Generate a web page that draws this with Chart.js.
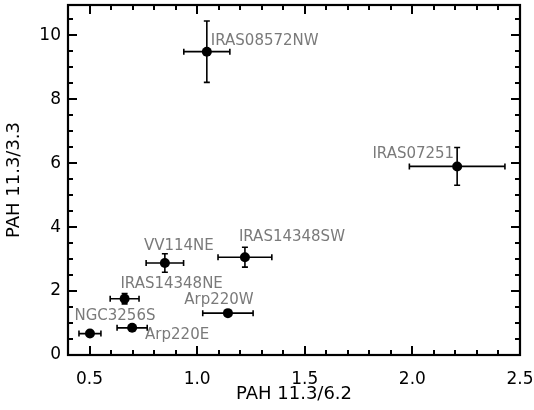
<!DOCTYPE html>
<html>
<head>
<meta charset="utf-8">
<script src="https://cdn.jsdelivr.net/npm/chart.js@4.4.1/dist/chart.umd.min.js"></script>
<style>
  html, body { margin: 0; padding: 0; background: #fff; }
  #grafico { display: block; }
</style>
</head>
<body>
<canvas id="grafico" width="534" height="410"></canvas>
<script>
// =======================================================================
// DADOS
// =======================================================================
const NOMES = [
  "IRAS08572NW",
  "IRAS07251",
  "IRAS14348SW",
  "VV114NE",
  "IRAS14348NE",
  "Arp220W",
  "NGC3256S",
  "Arp220E",
];
// PAH 11.3/6.2 (eixo x) e erro
const RAZAO_62 = [1.045, 2.208, 1.222, 0.850, 0.663, 1.143, 0.502, 0.698];
const ERRO_62 = [0.107, 0.222, 0.125, 0.087, 0.067, 0.117, 0.051, 0.070];
// PAH 11.3/3.3 (eixo y) e erro
const RAZAO_33 = [9.49, 5.90, 3.06, 2.88, 1.76, 1.31, 0.67, 0.85];
const ERRO_33 = [0.96, 0.59, 0.31, 0.29, 0.16, 0.07, 0.05, 0.05];

const X_TICKS = [0.5, 1.0, 1.5, 2.0, 2.5];
const Y_TICKS = [0, 2, 4, 6, 8, 10];

// posição dos rótulos em relação ao ponto (px): dx, dy, alinhamento
const POS_ROTULOS = [
  [4, -11, "left"],
  [-3, -12, "right"],
  [47, -20, "center"],
  [14, -17, "center"],
  [47, -15, "center"],
  [-9, -13, "center"],
  [25, -17, "center"],
  [45, 7, "center"],
];

const FONTE = "'DejaVu Sans', sans-serif";

// =======================================================================
// PLUGIN: BARRAS DE ERRO, RÓTULOS, MOLDURA E TICKS INTERNOS
// =======================================================================
const barrasErro = {
  id: "barrasErro",
  beforeDatasetsDraw(chart) {
    const { ctx, scales: { x, y } } = chart;
    const cap = 3;
    ctx.save();
    ctx.strokeStyle = "#000";
    ctx.lineWidth = 1.6;
    ctx.beginPath();
    NOMES.forEach((_, i) => {
      const px = x.getPixelForValue(RAZAO_62[i]);
      const py = y.getPixelForValue(RAZAO_33[i]);
      const x0 = x.getPixelForValue(RAZAO_62[i] - ERRO_62[i]);
      const x1 = x.getPixelForValue(RAZAO_62[i] + ERRO_62[i]);
      const y0 = y.getPixelForValue(RAZAO_33[i] - ERRO_33[i]);
      const y1 = y.getPixelForValue(RAZAO_33[i] + ERRO_33[i]);
      ctx.moveTo(x0, py); ctx.lineTo(x1, py);
      ctx.moveTo(x0, py - cap); ctx.lineTo(x0, py + cap);
      ctx.moveTo(x1, py - cap); ctx.lineTo(x1, py + cap);
      ctx.moveTo(px, y0); ctx.lineTo(px, y1);
      ctx.moveTo(px - cap, y0); ctx.lineTo(px + cap, y0);
      ctx.moveTo(px - cap, y1); ctx.lineTo(px + cap, y1);
    });
    ctx.stroke();
    ctx.restore();
  },
  afterDatasetsDraw(chart) {
    const { ctx, chartArea: { left, right, top, bottom }, scales: { x, y } } = chart;
    ctx.save();

    // rótulos dos objetos
    ctx.font = "15px " + FONTE;
    ctx.fillStyle = "#7a7a7a";
    ctx.textBaseline = "middle";
    NOMES.forEach((nome, i) => {
      const [dx, dy, al] = POS_ROTULOS[i];
      ctx.textAlign = al;
      ctx.fillText(nome, x.getPixelForValue(RAZAO_62[i]) + dx, y.getPixelForValue(RAZAO_33[i]) + dy);
    });

    // ticks voltados para dentro nos quatro lados
    ctx.strokeStyle = "#000";
    ctx.lineWidth = 2;
    ctx.beginPath();
    for (let k = 5; k < 25; k++) {
      const px = Math.round(x.getPixelForValue(k / 10));
      const len = k % 5 === 0 ? 9 : 5;
      ctx.moveTo(px, bottom); ctx.lineTo(px, bottom - len);
      ctx.moveTo(px, top); ctx.lineTo(px, top + len);
    }
    for (let k = 1; k <= 21; k++) {
      const py = Math.round(y.getPixelForValue(k / 2));
      const len = k % 4 === 0 ? 9 : 5;
      ctx.moveTo(left, py); ctx.lineTo(left + len, py);
      ctx.moveTo(right, py); ctx.lineTo(right - len, py);
    }
    ctx.stroke();

    // moldura
    ctx.lineWidth = 2.2;
    ctx.strokeRect(left, top, right - left, bottom - top);
    ctx.restore();
  },
};

// =======================================================================
// GRÁFICO
// =======================================================================
const ctx = document.getElementById("grafico").getContext("2d");
new Chart(ctx, {
  type: "scatter",
  data: {
    datasets: [
      {
        data: NOMES.map((_, i) => ({ x: RAZAO_62[i], y: RAZAO_33[i] })),
        backgroundColor: "#000",
        borderWidth: 0,
        pointRadius: 5,
      },
    ],
  },
  options: {
    responsive: false,
    animation: false,
    layout: { padding: { left: 0, right: 14, top: 4, bottom: 0 } },
    plugins: { legend: { display: false }, tooltip: { enabled: false } },
    scales: {
      x: {
        type: "linear",
        min: 0.4,
        max: 2.5,
        grid: { display: false, drawTicks: false },
        border: { display: false },
        afterBuildTicks: (s) => { s.ticks = X_TICKS.map((v) => ({ value: v })); },
        afterFit: (s) => {
          s.height = 55;
          s.paddingLeft = 0;
          s.paddingRight = 0;
        },
        ticks: {
          color: "#000",
          font: { family: FONTE, size: 17 },
          padding: 14,
          maxRotation: 0,
          callback: (v) => Number(v).toFixed(1),
        },
        title: {
          display: true,
          text: "PAH 11.3/6.2",
          color: "#000",
          font: { family: FONTE, size: 18 },
          padding: { top: 0, bottom: 5 },
        },
      },
      y: {
        type: "linear",
        min: 0,
        max: 10.95,
        grid: { display: false, drawTicks: false },
        border: { display: false },
        afterBuildTicks: (s) => { s.ticks = Y_TICKS.map((v) => ({ value: v })); },
        afterFit: (s) => {
          s.width = 68;
          s.paddingTop = 0;
          s.paddingBottom = 0;
        },
        ticks: {
          color: "#000",
          font: { family: FONTE, size: 17 },
          padding: 7,
          callback: (v) => String(v),
        },
        title: {
          display: true,
          text: "PAH 11.3/3.3",
          color: "#000",
          font: { family: FONTE, size: 18 },
          padding: { top: 4, bottom: 0 },
        },
      },
    },
  },
  plugins: [barrasErro],
});
</script>
</body>
</html>
